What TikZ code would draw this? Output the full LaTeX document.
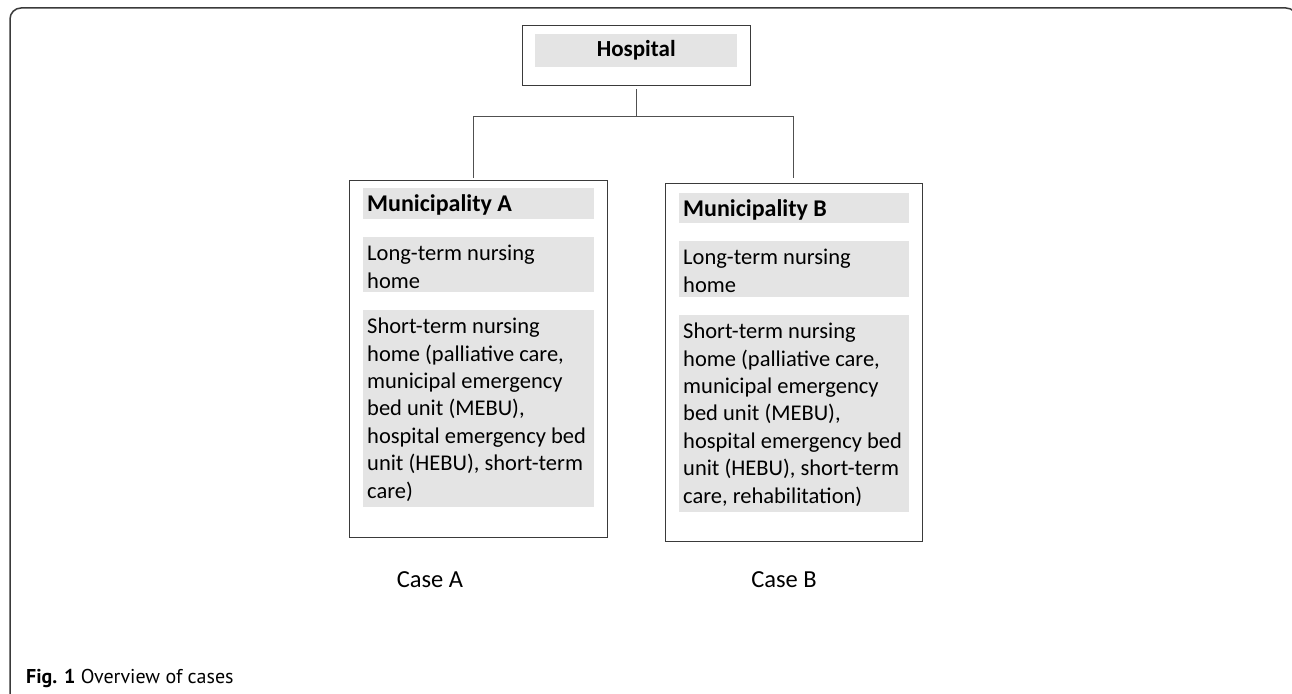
\documentclass[tikz,border=0pt]{standalone}
\usepackage{fontspec}
\setmainfont{Carlito}
\newfontfamily\capfont{PT Sans}
\usetikzlibrary{calc}
\definecolor{boxgrey}{HTML}{E4E4E4}
\definecolor{edge}{HTML}{3A3A3A}
\definecolor{connc}{HTML}{505050}
\begin{document}
\begin{tikzpicture}[x=1pt,y=-1pt,
  outerbox/.style={draw=edge, line width=1.3pt, fill=white, inner sep=0pt, anchor=north west},
  greybox/.style={fill=boxgrey, inner sep=0pt, anchor=north west},
  bodytxt/.style={font=\fontsize{22.5}{27.4}\selectfont, align=left, inner sep=0pt, anchor=north west},
  headtxt/.style={font=\fontsize{24}{28}\selectfont\bfseries, inner sep=0pt, anchor=north west},
  casetxt/.style={font=\fontsize{24.5}{28}\selectfont, inner sep=0pt},
  conn/.style={draw=connc, line width=1pt},
  framec/.style={draw=edge, line width=1.5pt, rounded corners=11pt},
]
\useasboundingbox (0,0) rectangle (1292,693);
% outer frame
\begin{scope}
\clip (0,0) rectangle (1292,693);
\draw[framec] (10,702) -- (10,8) -- (1297,8) -- (1297,702);
\end{scope}

% hospital
\node[outerbox, minimum width=228pt, minimum height=60pt] (hosp) at (522,25) {};
\node[greybox, minimum width=202pt, minimum height=33pt] (hospg) at (535,34) {};
\node[font=\fontsize{23}{27}\selectfont\bfseries, inner sep=0pt] (hospt) at (hospg.center) {Hospital};

% connectors
\coordinate (endA) at (473,178);
\coordinate (jB) at (793,116);
\coordinate (endB) at (793,178);
\draw[conn] ($(hosp.south)+(0,3)$) -- (hosp.south |- jB);
\draw[conn] (endA) |- (jB) -- (endB);

% box A
\node[outerbox, minimum width=258pt, minimum height=357pt] (boxA) at (349,180) {};
\node[greybox, minimum width=231pt, minimum height=31pt] (gAh) at (363,188) {};
\node[greybox, minimum width=231pt, minimum height=55pt] (gAl) at (363,237) {};
\node[greybox, minimum width=231pt, minimum height=197pt] (gAs) at (363,310) {};
\node[headtxt] (tAh) at ($(gAh.north west)+(4,5.5)$) {\rule{0pt}{18pt}Municipality A};
\node[bodytxt] (tAl) at ($(gAl.north west)+(4,5.5)$) {\rule{0pt}{18pt}Long-term nursing\\home};
\node[bodytxt] (tAs) at ($(gAs.north west)+(4,5.5)$) {\rule{0pt}{18pt}Short-term nursing\\home (palliative care,\\municipal emergency\\bed unit (MEBU),\\hospital emergency bed\\unit (HEBU), short-term\\care)};

% box B
\node[outerbox, minimum width=257pt, minimum height=358pt] (boxB) at (665,183) {};
\node[greybox, minimum width=230pt, minimum height=30pt] (gBh) at (679,193) {};
\node[greybox, minimum width=230pt, minimum height=56pt] (gBl) at (679,241) {};
\node[greybox, minimum width=230pt, minimum height=197pt] (gBs) at (679,315) {};
\node[headtxt] (tBh) at ($(gBh.north west)+(4,5.5)$) {\rule{0pt}{18pt}Municipality B};
\node[bodytxt] (tBl) at ($(gBl.north west)+(4,5.5)$) {\rule{0pt}{18pt}Long-term nursing\\home};
\node[bodytxt] (tBs) at ($(gBs.north west)+(4,5.5)$) {\rule{0pt}{18pt}Short-term nursing\\home (palliative care,\\municipal emergency\\bed unit (MEBU),\\hospital emergency bed\\unit (HEBU), short-term\\care, rehabilitation)};

% case labels
\node[casetxt] (caseA) at (430,580) {Case A};
\node[casetxt] (caseB) at (784,580) {Case B};

% caption
\node[font=\capfont\fontsize{20}{24}\selectfont, inner sep=0pt, anchor=base west] (cap) at (26,683) {\textbf{Fig. 1} Overview of cases};
\end{tikzpicture}
\end{document}
